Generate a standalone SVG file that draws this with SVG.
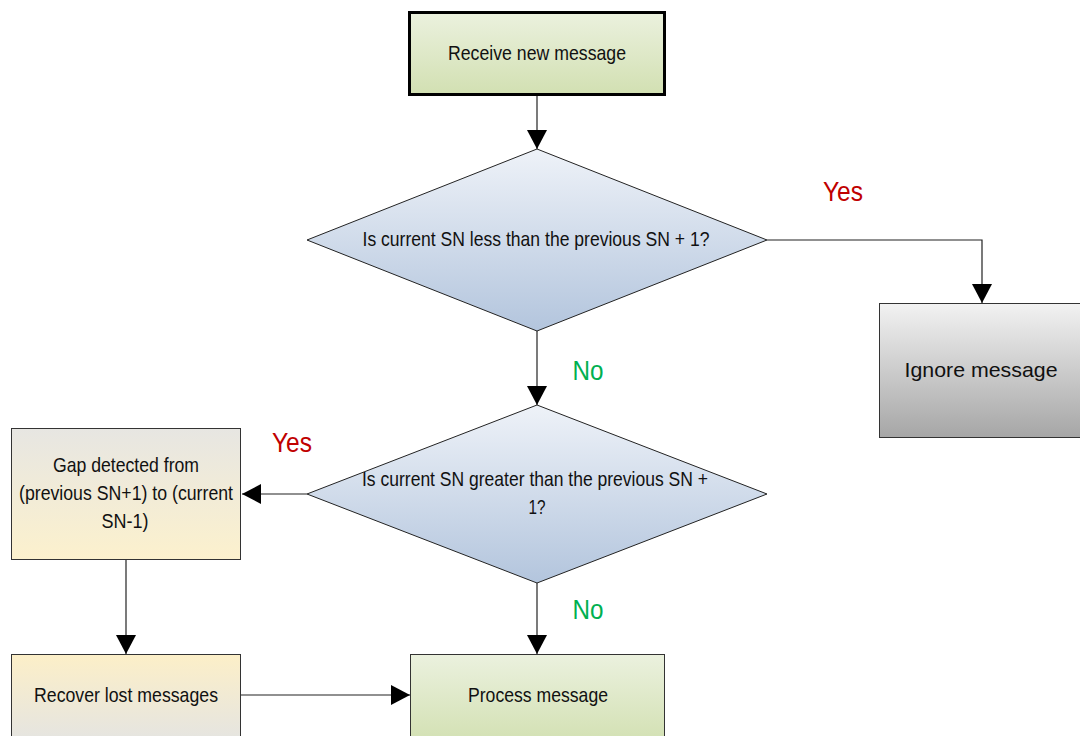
<svg xmlns="http://www.w3.org/2000/svg" width="1080" height="736" viewBox="0 0 1080 736">
<style>
text{font-family:"Liberation Sans",Arial,sans-serif;fill:#111}
.t{font-size:21px;text-anchor:middle}
.lbl{font-size:28px;text-anchor:middle}
.yes{fill:#c00000}
.no{fill:#00b050}
.box{stroke:#333;stroke-width:1}
.conn{stroke:#222;stroke-width:1.2;fill:none}
</style>
<defs>
<linearGradient id="gGreen" x1="0" y1="0" x2="0" y2="1"><stop offset="0" stop-color="#ebf1de"/><stop offset="1" stop-color="#d2e0b2"/></linearGradient>
<linearGradient id="gBlue" x1="0" y1="0" x2="0" y2="1"><stop offset="0" stop-color="#eef2f8"/><stop offset="1" stop-color="#b3c5dd"/></linearGradient>
<linearGradient id="gGray" x1="0" y1="0" x2="0" y2="1"><stop offset="0" stop-color="#f2f2f2"/><stop offset="1" stop-color="#a6a6a6"/></linearGradient>
<linearGradient id="gGap" x1="0" y1="0" x2="0" y2="1"><stop offset="0" stop-color="#e7e6e2"/><stop offset="1" stop-color="#fcf1cd"/></linearGradient>
<linearGradient id="gRec" x1="0" y1="0" x2="0" y2="1"><stop offset="0" stop-color="#fcefc8"/><stop offset="1" stop-color="#e4e4e2"/></linearGradient>
<marker id="ah" markerWidth="19" markerHeight="20" refX="19" refY="10" orient="auto" markerUnits="userSpaceOnUse"><path d="M0,0 L19,10 L0,20 Z" fill="#000"/></marker>
</defs>
<g id="connectors">
<path class="conn" d="M537,96 V149" marker-end="url(#ah)"/>
<path class="conn" d="M767,240 H982 V303" marker-end="url(#ah)"/>
<path class="conn" d="M537,331 V405" marker-end="url(#ah)"/>
<path class="conn" d="M307,494 H242" marker-end="url(#ah)"/>
<path class="conn" d="M126,560 V654" marker-end="url(#ah)"/>
<path class="conn" d="M241,695 H410" marker-end="url(#ah)"/>
<path class="conn" d="M537,583 V654" marker-end="url(#ah)"/>
</g>
<g id="receive">
<rect x="409.5" y="12.5" width="255" height="82" fill="url(#gGreen)" stroke="#000" stroke-width="3"/>
<text class="t" x="537" y="60" textLength="178" lengthAdjust="spacingAndGlyphs">Receive new message</text>
</g>
<g id="decision1">
<polygon points="537,149 767,240 537,331 307,240" fill="url(#gBlue)" stroke="#222" stroke-width="1"/>
<text class="t" x="536" y="246" textLength="347" lengthAdjust="spacingAndGlyphs">Is current SN less than the previous SN + 1?</text>
</g>
<g id="ignore">
<rect x="879.5" y="303.5" width="210" height="134" class="box" fill="url(#gGray)"/>
<text class="t" x="981" y="377" textLength="153" lengthAdjust="spacingAndGlyphs">Ignore message</text>
</g>
<g id="decision2">
<polygon points="537,405 767,494 537,583 307,494" fill="url(#gBlue)" stroke="#222" stroke-width="1"/>
<text class="t" x="535" y="486" textLength="346" lengthAdjust="spacingAndGlyphs">Is current SN greater than the previous SN +</text>
<text class="t" x="537" y="514" textLength="17" lengthAdjust="spacingAndGlyphs">1?</text>
</g>
<g id="gap">
<rect x="11.5" y="428.5" width="229" height="131" class="box" fill="url(#gGap)"/>
<text class="t" x="126" y="472" textLength="146" lengthAdjust="spacingAndGlyphs">Gap detected from</text>
<text class="t" x="126" y="500" textLength="214" lengthAdjust="spacingAndGlyphs">(previous SN+1) to (current</text>
<text class="t" x="125" y="528" textLength="47" lengthAdjust="spacingAndGlyphs">SN-1)</text>
</g>
<g id="recover">
<rect x="11.5" y="654.5" width="229" height="90" class="box" fill="url(#gRec)"/>
<text class="t" x="126" y="702" textLength="184" lengthAdjust="spacingAndGlyphs">Recover lost messages</text>
</g>
<g id="process">
<rect x="410.5" y="654.5" width="254" height="90" class="box" fill="url(#gGreen)"/>
<text class="t" x="538" y="702" textLength="140" lengthAdjust="spacingAndGlyphs">Process message</text>
</g>
<g id="labels">
<text class="lbl yes" x="843" y="201" textLength="40" lengthAdjust="spacingAndGlyphs">Yes</text>
<text class="lbl no" x="588" y="380" textLength="31" lengthAdjust="spacingAndGlyphs">No</text>
<text class="lbl yes" x="292" y="452" textLength="40" lengthAdjust="spacingAndGlyphs">Yes</text>
<text class="lbl no" x="588" y="619" textLength="31" lengthAdjust="spacingAndGlyphs">No</text>
</g>
</svg>
